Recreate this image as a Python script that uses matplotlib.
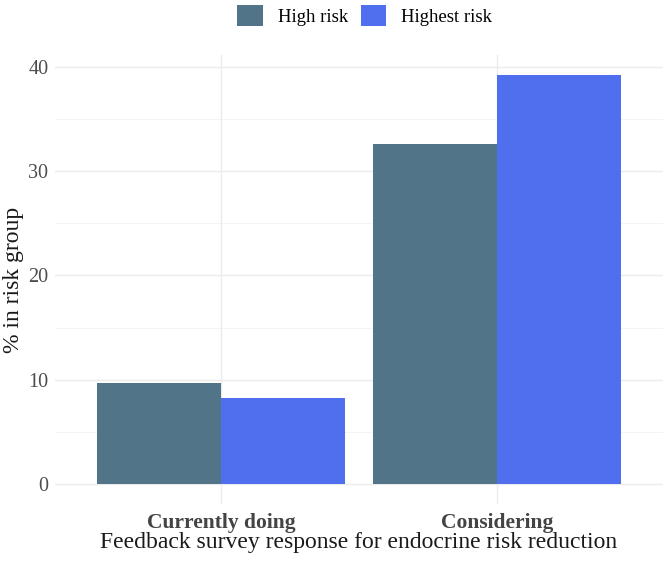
import matplotlib
matplotlib.use('Agg')

import matplotlib.pyplot as plt
import numpy as np
from matplotlib.patches import Patch

# data
categories = ['Currently doing', 'Considering']
high_risk = [9.7, 32.6]
highest_risk = [8.2, 39.2]
series_names = ['High risk', 'Highest risk']
colors = ['#527489', '#4F6FEE']

plt.rcParams['font.family'] = ['Liberation Serif', 'DejaVu Serif']

fig = plt.figure(figsize=(6.66, 5.61), dpi=100)
ax = fig.add_axes([0.083, 0.101, 0.912, 0.801])

x = np.arange(1, len(categories) + 1)
w = 0.45
ax.bar(x - w / 2, high_risk, width=w, color=colors[0], edgecolor='none', zorder=3)
ax.bar(x + w / 2, highest_risk, width=w, color=colors[1], edgecolor='none', zorder=3)

ax.set_xlim(0.4, 2.6)
ymax = max(max(high_risk), max(highest_risk))
ax.set_ylim(-0.05 * ymax, ymax * 1.05)

ax.set_xticks(x)
ax.set_xticklabels(categories, fontsize=15.5, fontweight='bold', color='#444444')
ax.set_yticks([0, 10, 20, 30, 40])
ax.set_yticks([5, 15, 25, 35], minor=True)
ax.tick_params(axis='y', labelsize=14.5, colors='#4D4D4D', length=0, pad=5)
ax.tick_params(axis='y', which='minor', length=0)
ax.tick_params(axis='x', length=0, pad=6.5)

ax.grid(True, which='major', color='#EBEBEB', linewidth=1.0, zorder=0)
ax.grid(True, which='minor', axis='y', color='#F2F2F2', linewidth=0.6, zorder=0)
ax.set_axisbelow(True)
for s in ax.spines.values():
    s.set_visible(False)

ax.set_xlabel('Feedback survey response for endocrine risk reduction', fontsize=17, color='#1A1A1A', labelpad=-1)
ax.set_ylabel('% in risk group', fontsize=17, color='#1A1A1A', labelpad=3)

handles = [Patch(facecolor=c, edgecolor='none') for c in colors]
fig.legend(handles, series_names, loc='upper center', bbox_to_anchor=(0.548, 1.021),
           ncol=2, frameon=False, fontsize=13.5, handlelength=1.35, handleheight=1.35,
           columnspacing=0.7, handletextpad=0.8)

fig.savefig('out.png', dpi=100)
